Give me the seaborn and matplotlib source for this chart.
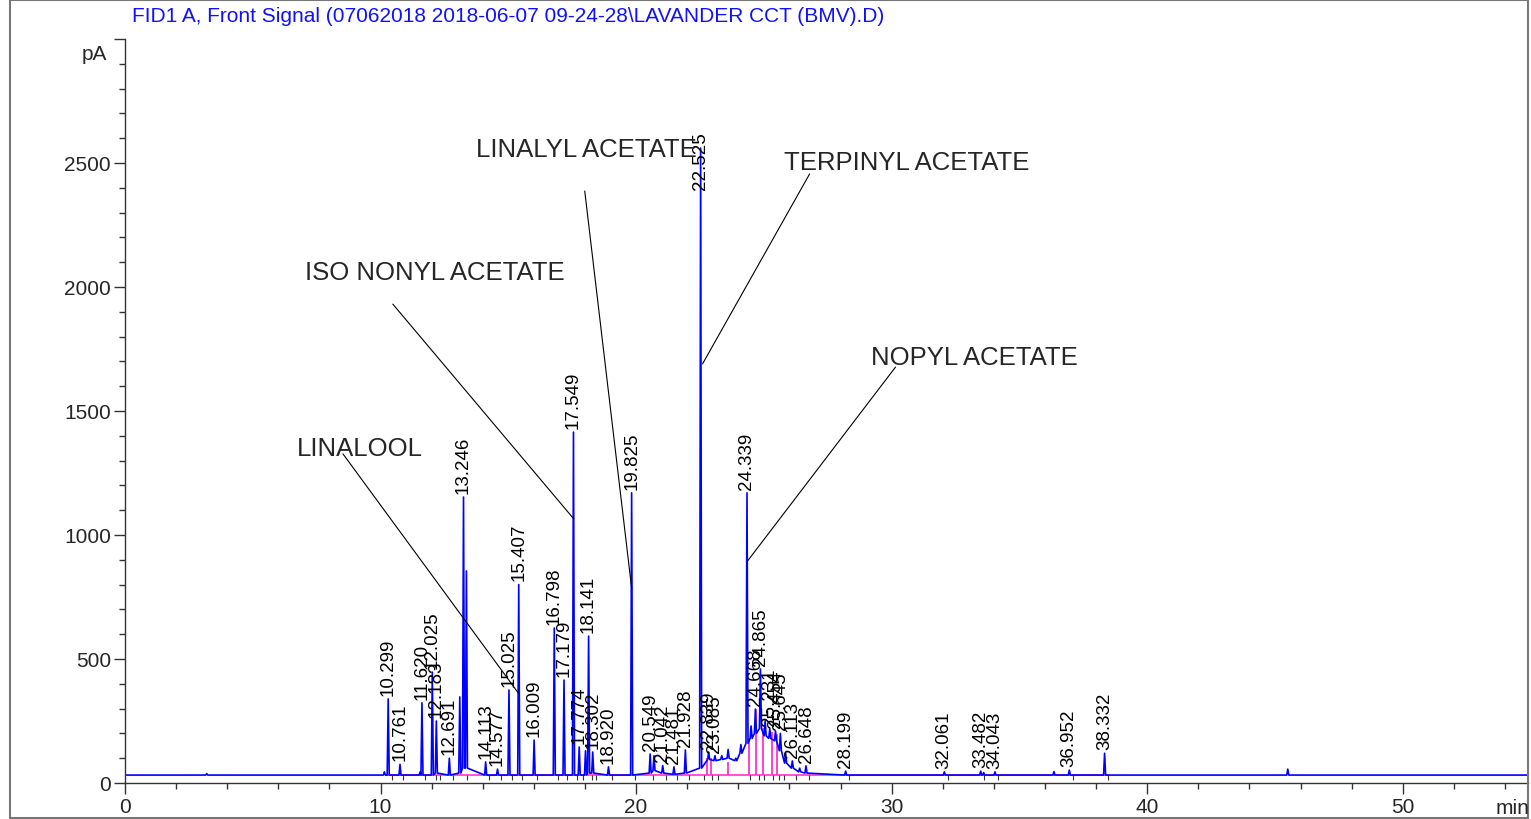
import matplotlib.pyplot as plt
import numpy as np
import pandas as pd
import seaborn as sns
from matplotlib.patches import Rectangle

# labelled peaks: retention time (min), apex signal (pA), foot level (pA)
label_times = [10.299, 10.761, 11.620, 12.025, 12.183, 12.691, 13.246, 14.113,
               14.577, 15.025, 15.407, 16.009, 16.798, 17.179, 17.549, 17.774,
               18.141, 18.302, 18.920, 19.825, 20.549, 21.042, 21.481, 21.928,
               22.525, 22.839, 23.085, 24.339, 24.668, 24.865, 25.231, 25.454,
               25.645, 26.113, 26.648, 28.199, 32.061, 33.482, 34.043, 36.952,
               38.332]
label_heights = [339, 75, 323, 447, 250, 100, 1153, 85,
                 56, 375, 800, 173, 625, 415, 1415, 145,
                 592, 125, 65, 1170, 117, 70, 65, 133,
                 2560, 125, 110, 1170, 298, 460, 218, 210,
                 200, 89, 69, 48, 45, 48, 45, 52,
                 120]
label_feet = [32, 32, 32, 32, 40, 32, 60, 32,
              32, 32, 32, 32, 32, 32, 32, 32,
              40, 40, 32, 32, 40, 40, 35, 40,
              60, 95, 90, 160, 200, 220, 180, 170,
              130, 60, 40, 32, 32, 32, 32, 32,
              32]

# smaller unlabelled peaks and the hump under the 23-26 min region
extra_times = [3.2, 10.15, 11.55, 13.10, 13.36, 18.02, 20.70, 23.35, 23.6,
               23.9, 24.1, 24.5, 25.05, 25.85, 26.4, 33.6, 36.35, 45.5]
extra_heights = [38, 45, 45, 347, 855, 130, 110, 110, 135,
                 100, 155, 230, 250, 120, 60, 42, 46, 56]
extra_feet = [32, 32, 32, 40, 60, 32, 50, 95, 100,
              90, 120, 180, 190, 80, 45, 32, 32, 32]

baseline = 32
run_end = 54.9

# integration drop lines (magenta)
drop_times = [22.76, 22.92, 23.58, 24.40, 24.70, 24.98, 25.32, 25.52]
drop_tops = [100, 100, 85, 180, 298, 220, 205, 198]

compounds = ['LINALOOL', 'ISO NONYL ACETATE', 'LINALYL ACETATE',
             'TERPINYL ACETATE', 'NOPYL ACETATE']

title = 'FID1 A, Front Signal (07062018 2018-06-07 09-24-28\\LAVANDER CCT (BMV).D)'

# build the trace as narrow triangular peaks on top of their feet
peaks = pd.DataFrame({
    't': label_times + extra_times,
    'h': label_heights + extra_heights,
    'foot': label_feet + extra_feet,
}).sort_values('t')
w = 0.04
tt = [0.0]
yy = [baseline]
for _, p in peaks.iterrows():
    tt += [p.t - w, p.t, p.t + w]
    yy += [p.foot, p.h, p.foot]
tt.append(run_end)
yy.append(baseline)
trace = pd.DataFrame({'time': tt, 'signal': yy})

sns.set_theme(style='white')
plt.rcParams['font.family'] = ['Liberation Sans', 'DejaVu Sans']

fig = plt.figure(figsize=(15.31, 8.2), dpi=100)
ax = fig.add_axes([125 / 1531, 36 / 820, (1528 - 125) / 1531, 744 / 820])

# magenta baseline + drop lines
ax.plot([10.2, 38.5], [baseline - 1, baseline - 1], color='#ff33cc', lw=1.2)
ax.vlines(drop_times, baseline, drop_tops, color='#ff33cc', lw=1.3)
# peak end markers
ax.vlines(np.array(label_times) + 0.13, 12, baseline, color='#333333', lw=0.8)

sns.lineplot(data=trace, x='time', y='signal', sort=False, estimator=None,
             color='#0000ff', lw=1.2, ax=ax)

for t, h in zip(label_times, label_heights):
    ax.annotate(f'{t:.3f}', xy=(t, min(h, 2380)), xytext=(0, 3),
                textcoords='offset points', rotation=90, ha='center',
                va='bottom', fontsize=13.5, color='black')

# compound call-outs: text centre and leader line ends
text_pos = [(9.19, 1351), (12.12, 2060), (18.07, 2556), (30.58, 2504), (33.24, 1718)]
leader_start = [(8.53, 1327), (10.48, 1931), (17.99, 2387), (26.79, 2456), (30.15, 1677)]
leader_end = [(15.41, 360), (17.56, 1065), (19.83, 782), (22.60, 1690), (24.36, 895)]
for name, tp, s, e in zip(compounds, text_pos, leader_start, leader_end):
    ax.text(tp[0], tp[1], name, fontsize=18.5, ha='center', va='center')
    ax.plot([s[0], e[0]], [s[1], e[1]], color='black', lw=0.8)

ax.set_xlim(0, run_end)
ax.set_ylim(0, 3000)
ax.set_xticks(np.arange(0, 51, 10))
ax.set_xticks(np.arange(0, 55, 2), minor=True)
ax.set_yticks(np.arange(0, 3001, 500))
ax.set_yticklabels([str(v) for v in range(0, 3000, 500)] + [''])
ax.set_yticks(np.arange(0, 3000, 100), minor=True)
ax.tick_params(which='major', direction='out', length=8, width=1, labelsize=15,
               color='#333333', left=True, bottom=True, pad=2)
ax.tick_params(which='minor', direction='out', length=4, width=1,
               color='#333333', left=True, bottom=True)
ax.set_xlabel('')
ax.set_ylabel('')
for side in ['top', 'right']:
    ax.spines[side].set_visible(False)
for side in ['left', 'bottom']:
    ax.spines[side].set_color('#333333')
    ax.spines[side].set_linewidth(1)

fig.text(107 / 1531, 1 - 55 / 820, 'pA', ha='right', va='center', fontsize=15)
fig.text(1529 / 1531, 1 - 809 / 820, 'min', ha='right', va='center', fontsize=15)
fig.text(132 / 1531, 1 - 17 / 820, title, ha='left', va='center', fontsize=15,
         color='#1010ff')
fig.patches.append(Rectangle((10 / 1531, 1 / 820), 1518 / 1531, 818 / 820,
                             transform=fig.transFigure, fill=False,
                             edgecolor='#777777', lw=1.5))

plt.savefig('out.png', dpi=100)
